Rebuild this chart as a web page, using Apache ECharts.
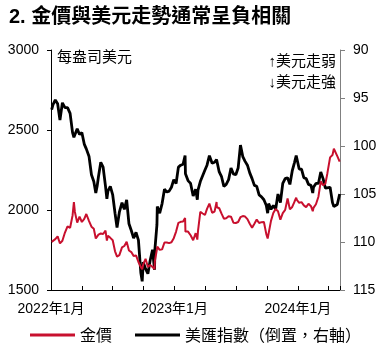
<!DOCTYPE html>
<html>
<head>
<meta charset="utf-8">
<script src="https://cdn.jsdelivr.net/npm/echarts@6/dist/echarts.min.js"></script>
<style>
  html, body { margin: 0; padding: 0; background: #fff; }
  #chart { width: 381px; height: 351px; }
</style>
</head>
<body>
<div id="chart"></div>
<script>
// 週度資料（讀圖估計）
const dates = [
  '2022-01-03','2022-01-07','2022-01-14','2022-01-21','2022-01-28','2022-02-04','2022-02-11','2022-02-18','2022-02-25',
  '2022-03-04','2022-03-08','2022-03-11','2022-03-18','2022-03-25','2022-04-01','2022-04-08','2022-04-14','2022-04-22',
  '2022-04-29','2022-05-06','2022-05-12','2022-05-16','2022-05-20','2022-05-27','2022-06-03','2022-06-10','2022-06-14',
  '2022-06-17','2022-06-24','2022-07-01','2022-07-08','2022-07-14','2022-07-21','2022-07-29','2022-08-05','2022-08-12',
  '2022-08-19','2022-08-26','2022-09-02','2022-09-09','2022-09-16','2022-09-23','2022-09-27','2022-09-30','2022-10-07',
  '2022-10-14','2022-10-21','2022-10-28','2022-11-03','2022-11-04','2022-11-10','2022-11-11','2022-11-18','2022-11-25',
  '2022-12-02','2022-12-09','2022-12-16','2022-12-23','2022-12-30',
  '2023-01-06','2023-01-13','2023-01-20','2023-01-27','2023-02-02','2023-02-03','2023-02-10','2023-02-17','2023-02-24',
  '2023-03-03','2023-03-08','2023-03-10','2023-03-17','2023-03-24','2023-03-31','2023-04-06','2023-04-13','2023-04-21',
  '2023-04-28','2023-05-04','2023-05-05','2023-05-12','2023-05-19','2023-05-26','2023-06-02','2023-06-09','2023-06-16',
  '2023-06-23','2023-06-30','2023-07-07','2023-07-14','2023-07-21','2023-07-28','2023-08-04','2023-08-11','2023-08-18',
  '2023-08-25','2023-09-01','2023-09-08','2023-09-15','2023-09-22','2023-09-29','2023-10-03','2023-10-06','2023-10-13',
  '2023-10-20','2023-10-27','2023-11-03','2023-11-10','2023-11-17','2023-11-24','2023-12-01','2023-12-08','2023-12-15',
  '2023-12-22','2023-12-27','2023-12-29',
  '2024-01-05','2024-01-12','2024-01-19','2024-01-26','2024-02-02','2024-02-09','2024-02-14','2024-02-16','2024-02-23',
  '2024-03-01','2024-03-08','2024-03-15','2024-03-22','2024-03-28','2024-04-05','2024-04-12','2024-04-16','2024-04-19',
  '2024-04-26','2024-05-03'
];

// 金價（每盎司美元）
const goldPrice = [
  1801,1797,1818,1835,1791,1808,1859,1898,1889,
  1966,2050,1988,1921,1958,1925,1945,1975,1931,
  1896,1883,1822,1812,1846,1853,1850,1871,1809,
  1839,1826,1811,1742,1709,1718,1766,1775,1802,
  1747,1737,1712,1716,1675,1644,1629,1660,1695,
  1644,1657,1644,1630,1681,1755,1771,1751,1754,
  1797,1797,1793,1798,1824,
  1865,1920,1926,1928,1950,1865,1865,1842,1811,
  1855,1815,1868,1989,1978,1969,2007,2040,1983,
  1990,2050,2017,2011,1977,1946,1948,1961,1958,
  1921,1919,1925,1955,1962,1959,1943,1914,1889,
  1914,1940,1919,1924,1925,1849,1822,1833,1932,
  1981,2006,1992,1940,1981,2001,2072,2004,2019,
  2053,2077,2063,
  2045,2049,2029,2018,2039,2024,1992,2013,2036,
  2083,2179,2155,2165,2230,2329,2344,2383,2392,
  2337,2302
];

// 美匯指數（右軸，倒置）
const dxyIndex = [
  96.2,95.7,95.2,95.6,97.3,95.5,96.0,96.0,96.6,
  98.6,99.1,99.1,98.2,98.8,98.6,99.8,100.3,101.1,
  103.0,103.7,104.9,104.2,103.2,101.7,102.2,104.2,105.5,
  104.7,104.2,105.1,107.0,108.5,106.9,105.9,106.6,105.6,
  108.1,108.8,109.6,109.0,109.8,113.2,114.1,112.1,112.8,
  113.3,111.9,110.8,112.9,110.8,108.2,106.3,107.0,106.0,
  104.5,104.8,104.7,104.3,103.5,
  103.9,102.2,102.0,101.9,101.0,102.9,103.6,103.9,105.2,
  104.5,105.6,104.6,103.7,103.1,102.5,102.0,101.0,101.8,
  101.7,101.4,101.2,102.7,103.2,104.2,104.0,103.5,102.3,
  102.9,103.0,102.3,99.9,101.1,101.6,102.0,102.8,103.4,
  104.1,104.2,105.1,105.3,105.6,106.2,107.0,106.0,106.6,
  106.2,106.6,105.0,105.9,103.9,103.4,103.3,104.0,102.6,
  101.7,101.0,101.3,
  102.4,102.4,103.3,103.4,104.0,104.1,104.9,104.3,103.9,
  103.9,102.7,103.4,104.4,104.5,104.3,105.9,106.3,106.1,
  106.1,105.0
];

const seriesNames = ['金價', '美匯指數（倒置，右軸）'];
const startYear = 2022;
const endDate = '2024-05-04';
const leftTicks = { min: 1500, max: 3000, interval: 500 };
const rightTicks = { min: 90, max: 115, interval: 5 };

// 日期換成自 2022 年 1 月起的月數
function toMonths(s) {
  const [y, m, d] = s.split('-').map(Number);
  const dim = new Date(y, m, 0).getDate();
  return (y - startYear) * 12 + (m - 1) + (d - 1) / dim;
}

const xs = dates.map(toMonths);
const FONT = "'Liberation Sans', 'Noto Sans CJK TC', sans-serif";
const CJK = "'Noto Sans CJK TC', sans-serif";

// 兩個圖例分開擺，避免換行
const legendBase = {
  top: 327,
  padding: 0,
  icon: 'rect',
  itemWidth: 45,
  itemHeight: 3,
  textStyle: { fontFamily: CJK, fontSize: 16, color: '#000', width: 200, overflow: 'none' }
};

const chart = echarts.init(document.getElementById('chart'));
chart.setOption({
  animation: false,
  textStyle: { fontFamily: FONT, color: '#000' },
  title: {
    text: '2. 金價與美元走勢通常呈負相關',
    left: 4,
    top: 2,
    textStyle: { fontFamily: FONT, fontSize: 20, fontWeight: 'bold', color: '#000' }
  },
  grid: { left: 51, right: 41, top: 50, bottom: 61 },
  legend: [
    { ...legendBase, left: 30, data: [seriesNames[0]] },
    { ...legendBase, left: 135, data: [seriesNames[1]] }
  ],
  xAxis: {
    type: 'value',
    min: 0,
    max: toMonths(endDate),
    interval: 3,
    splitLine: { show: false },
    axisLine: { lineStyle: { color: '#000', width: 1 } },
    axisTick: { inside: true, length: 4, lineStyle: { color: '#000' } },
    axisLabel: {
      margin: 12,
      fontSize: 14,
      color: '#000',
      showMinLabel: true,
      showMaxLabel: true,
      formatter: v => (Math.abs(v % 12) < 1e-6 ? (startYear + v / 12) + '年1月' : '')
    }
  },
  yAxis: [
    {
      type: 'value',
      ...leftTicks,
      position: 'left',
      splitLine: { show: false },
      axisLine: { show: true, lineStyle: { color: '#000' } },
      axisTick: { show: true, length: 4, lineStyle: { color: '#000' } },
      axisLabel: { margin: 12, fontSize: 14, color: '#000', formatter: v => String(v) }
    },
    {
      type: 'value',
      ...rightTicks,
      inverse: true,
      position: 'right',
      splitLine: { show: false },
      axisLine: { show: true, lineStyle: { color: '#808080' } },
      axisTick: { show: true, length: 5, lineStyle: { color: '#808080' } },
      axisLabel: { margin: 13, fontSize: 14, color: '#000' }
    }
  ],
  graphic: [
    { type: 'text', x: 57, y: 58, style: { text: '每盎司美元', font: '15px ' + FONT, fill: '#000', verticalAlign: 'middle' } },
    { type: 'text', x: 336, y: 62, style: { text: '↑美元走弱', font: '15px ' + FONT, fill: '#000', align: 'right', verticalAlign: 'middle' } },
    { type: 'text', x: 336, y: 83, style: { text: '↓美元走強', font: '15px ' + FONT, fill: '#000', align: 'right', verticalAlign: 'middle' } }
  ],
  series: [
    {
      name: seriesNames[0],
      type: 'line',
      yAxisIndex: 0,
      showSymbol: false,
      color: '#c8102e',
      lineStyle: { width: 2, color: '#c8102e' },
      z: 3,
      data: xs.map((x, i) => [x, goldPrice[i]])
    },
    {
      name: seriesNames[1],
      type: 'line',
      yAxisIndex: 1,
      showSymbol: false,
      color: '#000',
      lineStyle: { width: 2.8, color: '#000' },
      z: 2,
      data: xs.map((x, i) => [x, dxyIndex[i]])
    }
  ]
});
</script>
</body>
</html>
